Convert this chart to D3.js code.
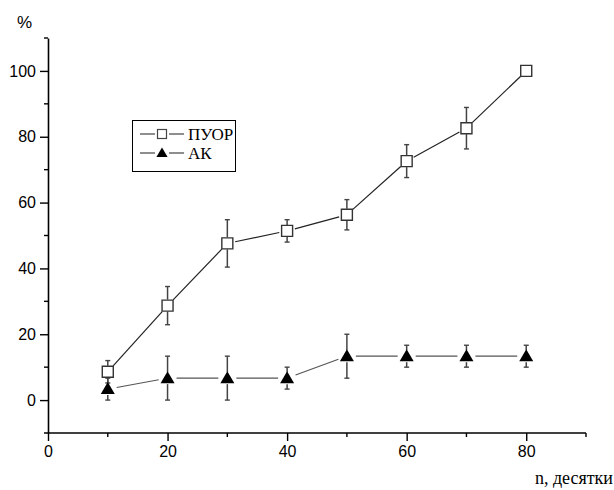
<!DOCTYPE html>
<html>
<head>
<meta charset="utf-8">
<script src="https://cdn.jsdelivr.net/npm/d3@7"></script>
<style>
  body { margin: 0; background: #fff; }
  .tick text { font-family: "Liberation Sans", Arial, sans-serif; font-size: 16px; fill: #000; }
  .serif { font-family: "Liberation Serif", "Times New Roman", "DejaVu Serif", serif; }
</style>
</head>
<body>
<svg id="chart" width="614" height="490"></svg>
<script>
// data
const xValues = [10, 20, 30, 40, 50, 60, 70, 80];
const puorValues = [8.6, 28.7, 47.6, 51.4, 56.3, 72.6, 82.6, 100];
const puorErrors = [3.4, 5.8, 7.2, 3.4, 4.6, 5.0, 6.3, 0];
const akValues = [3.33, 6.67, 6.67, 6.67, 13.33, 13.33, 13.33, 13.33];
const akErrors = [3.33, 6.67, 6.67, 3.33, 6.67, 3.33, 3.33, 3.33];
const seriesNames = ["ПУОР", "АК"];
const xTicks = [0, 20, 40, 60, 80];
const yTicks = [0, 20, 40, 60, 80, 100];

const svg = d3.select("#chart");

const x = d3.scaleLinear().domain([0, 90]).range([48, 586]);
const y = d3.scaleLinear().domain([-10, 110]).range([433, 38]);

//axes
const xAxis = svg.append("g")
    .attr("transform", "translate(0," + y(-10) + ")")
    .call(d3.axisBottom(x).tickValues(xTicks).tickSize(8).tickSizeOuter(0).tickPadding(5));
const yAxis = svg.append("g")
    .attr("transform", "translate(" + x(0) + ",0)")
    .call(d3.axisLeft(y).tickValues(yTicks).tickSize(8).tickSizeOuter(0).tickPadding(4));

[xAxis, yAxis].forEach(function (g) {
    g.select(".domain").attr("stroke", "#000").attr("stroke-width", 1.6);
    g.selectAll(".tick line").attr("stroke", "#000").attr("stroke-width", 1.4);
});
xAxis.select(".domain").attr("d", "M" + (x(0) - 4) + ",0H" + x(90));

//minor ticks
const minorX = d3.range(10, 100, 20);
const minorY = d3.range(-10, 120, 20).filter(function (d) { return d > -10; });
svg.append("g").selectAll("line")
    .data(minorX)
    .enter()
    .append("line")
    .attr("x1", function (d) { return x(d); })
    .attr("x2", function (d) { return x(d); })
    .attr("y1", y(-10))
    .attr("y2", y(-10) + 4)
    .attr("stroke", "#000")
    .attr("stroke-width", 1.4);
svg.append("g").selectAll("line")
    .data(minorY)
    .enter()
    .append("line")
    .attr("x1", x(0) - 4)
    .attr("x2", x(0))
    .attr("y1", function (d) { return y(d); })
    .attr("y2", function (d) { return y(d); })
    .attr("stroke", "#000")
    .attr("stroke-width", 1.4);

//axis titles
svg.append("text")
    .attr("x", 17)
    .attr("y", 28)
    .style("font-family", "'Liberation Sans', Arial, sans-serif")
    .style("font-size", "17px")
    .text("%");
svg.append("text")
    .attr("class", "serif")
    .attr("x", 613)
    .attr("y", 484)
    .attr("text-anchor", "end")
    .style("font-size", "18px")
    .text("n, десятки");

function makePoints(vals, errs) {
    return xValues.map(function (d, i) {
        return {x: d, y: vals[i], e: errs[i]};
    });
}

const puor = makePoints(puorValues, puorErrors);
const ak = makePoints(akValues, akErrors);

//connecting lines, shortened so they stop short of the markers
function drawLines(points, gap, color) {
    const segs = [];
    for (let i = 0; i < points.length - 1; i++) {
        const x1 = x(points[i].x), y1 = y(points[i].y);
        const x2 = x(points[i + 1].x), y2 = y(points[i + 1].y);
        const len = Math.hypot(x2 - x1, y2 - y1);
        const ux = (x2 - x1) / len, uy = (y2 - y1) / len;
        segs.push([x1 + ux * gap, y1 + uy * gap, x2 - ux * gap, y2 - uy * gap]);
    }
    svg.append("g").selectAll("line")
        .data(segs)
        .enter()
        .append("line")
        .attr("x1", function (d) { return d[0]; })
        .attr("y1", function (d) { return d[1]; })
        .attr("x2", function (d) { return d[2]; })
        .attr("y2", function (d) { return d[3]; })
        .attr("stroke", color)
        .attr("stroke-width", 1.2);
}

function drawErrors(points, half, color) {
    const g = svg.append("g");
    points.filter(function (d) { return d.e > 0; }).forEach(function (d) {
        const cx = x(d.x);
        const top = y(d.y + d.e), bot = y(d.y - d.e);
        const cy = y(d.y);
        g.append("line").attr("x1", cx).attr("x2", cx).attr("y1", top).attr("y2", cy - half)
            .attr("stroke", color).attr("stroke-width", 1.5);
        g.append("line").attr("x1", cx).attr("x2", cx).attr("y1", cy + half).attr("y2", bot)
            .attr("stroke", color).attr("stroke-width", 1.5);
        g.append("line").attr("x1", cx - 2.5).attr("x2", cx + 2.5).attr("y1", top).attr("y2", top)
            .attr("stroke", color).attr("stroke-width", 1.4);
        g.append("line").attr("x1", cx - 2.5).attr("x2", cx + 2.5).attr("y1", bot).attr("y2", bot)
            .attr("stroke", color).attr("stroke-width", 1.4);
    });
}

const squareSym = d3.symbol().type(d3.symbolSquare).size(121);
const triangleSym = "M0,-7L7,5L-7,5Z";

drawLines(ak, 9, "#555");
drawLines(puor, 8, "#222");
drawErrors(ak, 6, "#444");
drawErrors(puor, 6, "#444");

svg.append("g").selectAll("path")
    .data(ak)
    .enter()
    .append("path")
    .attr("transform", function (d) { return "translate(" + x(d.x) + "," + y(d.y) + ")"; })
    .attr("d", triangleSym)
    .attr("fill", "#000");

svg.append("g").selectAll("path")
    .data(puor)
    .enter()
    .append("path")
    .attr("transform", function (d) { return "translate(" + x(d.x) + "," + y(d.y) + ")"; })
    .attr("d", squareSym)
    .attr("fill", "#fff")
    .attr("stroke", "#333")
    .attr("stroke-width", 1.4);

//legend
const legend = svg.append("g");
legend.append("rect")
    .attr("x", 132.5)
    .attr("y", 120.5)
    .attr("width", 103)
    .attr("height", 51)
    .attr("fill", "#fff")
    .attr("stroke", "#000")
    .attr("stroke-width", 1);

const legendRows = [
    {name: seriesNames[0], cy: 134, marker: "square"},
    {name: seriesNames[1], cy: 153, marker: "triangle"}
];
legendRows.forEach(function (r) {
    legend.append("line").attr("x1", 140).attr("x2", 155).attr("y1", r.cy).attr("y2", r.cy)
        .attr("stroke", "#444").attr("stroke-width", 1.2);
    legend.append("line").attr("x1", 169).attr("x2", 184).attr("y1", r.cy).attr("y2", r.cy)
        .attr("stroke", "#444").attr("stroke-width", 1.2);
    if (r.marker === "square") {
        legend.append("rect").attr("x", 157.5).attr("y", r.cy - 4.5).attr("width", 9).attr("height", 9)
            .attr("fill", "#fff").attr("stroke", "#444").attr("stroke-width", 1.2);
    } else {
        legend.append("path").attr("transform", "translate(162," + r.cy + ") scale(0.8)")
            .attr("d", triangleSym).attr("fill", "#000");
    }
    legend.append("text")
        .attr("class", "serif")
        .attr("x", 188)
        .attr("y", r.cy + 6)
        .style("font-size", "17px")
        .text(r.name);
});
</script>
</body>
</html>
